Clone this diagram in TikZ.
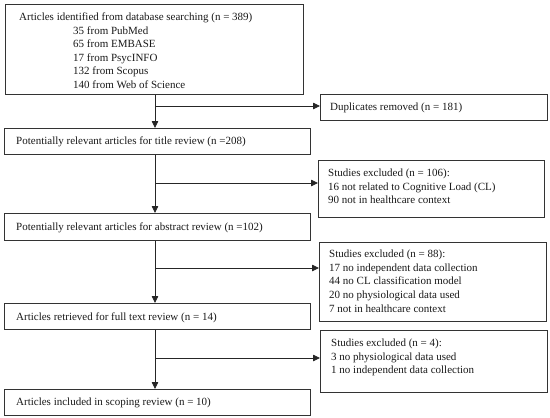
\documentclass[tikz,border=0pt]{standalone}
\usepackage{fontspec}
\setmainfont{Liberation Serif}
\usetikzlibrary{arrows.meta}
\begin{document}
\begin{tikzpicture}[x=1pt,y=-1pt,
  box/.style={draw=black!80, line width=0.8pt, inner sep=0pt, anchor=north west},
  txt/.style={inner sep=0pt, anchor=base west, font=\fontsize{11}{13.6}\selectfont, text=black!90},
  arr/.style={draw=black!85, line width=0.8pt, -{Triangle[length=7pt,width=6.5pt]}}]
\useasboundingbox (0,0) rectangle (550,418);
% left column boxes
\node[box, minimum width=298, minimum height=90] (b1) at (5,4) {};
\node[box, minimum width=306, minimum height=26] (b2) at (4,128) {};
\node[box, minimum width=306, minimum height=27] (b3) at (4,213) {};
\node[box, minimum width=306, minimum height=26] (b4) at (4,303) {};
\node[box, minimum width=306, minimum height=26] (b5) at (4,389) {};
% right column boxes
\node[box, minimum width=227, minimum height=26] (d1) at (320,94) {};
\node[box, minimum width=226, minimum height=57] (d2) at (318,160) {};
\node[box, minimum width=227, minimum height=79] (d3) at (319,242) {};
\node[box, minimum width=227, minimum height=62] (d4) at (320,330) {};
% texts, box 1
\node[txt] (t1) at (19,20.5) {Articles identified from database searching (n = 389)};
\node[txt] (t1a) at (73,34.1) {35 from PubMed};
\node[txt] (t1b) at (73,47.7) {65 from EMBASE};
\node[txt] (t1c) at (73,61.3) {17 from PsycINFO};
\node[txt] (t1d) at (73,74.9) {132 from Scopus};
\node[txt] (t1e) at (73,88.5) {140 from Web of Science};
% left texts
\node[txt] (t2) at (16,144.5) {Potentially relevant articles for title review (n =208)};
\node[txt] (t3) at (16,230.5) {Potentially relevant articles for abstract review (n =102)};
\node[txt] (t4) at (16,320.5) {Articles retrieved for full text review (n = 14)};
\node[txt] (t5) at (16,405.5) {Articles included in scoping review (n = 10)};
% right texts
\node[txt] (td1) at (330,110.5) {Duplicates removed (n = 181)};
\node[txt] (td2a) at (328,176.5) {Studies excluded (n = 106):};
\node[txt] (td2b) at (328,190) {16 not related to Cognitive Load (CL)};
\node[txt] (td2c) at (328,203.5) {90 not in healthcare context};
\node[txt] (td3a) at (329,257.5) {Studies excluded (n = 88):};
\node[txt] (td3b) at (329,271) {17 no independent data collection};
\node[txt] (td3c) at (329,284.5) {44 no CL classification model};
\node[txt] (td3d) at (329,298.5) {20 no physiological data used};
\node[txt] (td3e) at (329,312) {7 not in healthcare context};
\node[txt] (td4a) at (331,346.5) {Studies excluded (n = 4):};
\node[txt] (td4b) at (331,360) {3 no physiological data used};
\node[txt] (td4c) at (331,373.5) {1 no independent data collection};
% spine and junctions
\coordinate (sp) at (155,0);
\coordinate (j1) at (155,106);
\coordinate (j2) at (155,183);
\coordinate (j3) at (155,268);
\coordinate (j4) at (155,358);
\draw[arr] (b1.south -| sp) -- (b2.north -| sp);
\draw[arr] (b2.south -| sp) -- (b3.north -| sp);
\draw[arr] (b3.south -| sp) -- (b4.north -| sp);
\draw[arr] (b4.south -| sp) -- (b5.north -| sp);
\draw[arr] (j1) -- (j1 -| d1.west);
\draw[arr] (j2) -- (j2 -| d2.west);
\draw[arr] (j3) -- (j3 -| d3.west);
\draw[arr] (j4) -- (j4 -| d4.west);
\end{tikzpicture}
\end{document}
